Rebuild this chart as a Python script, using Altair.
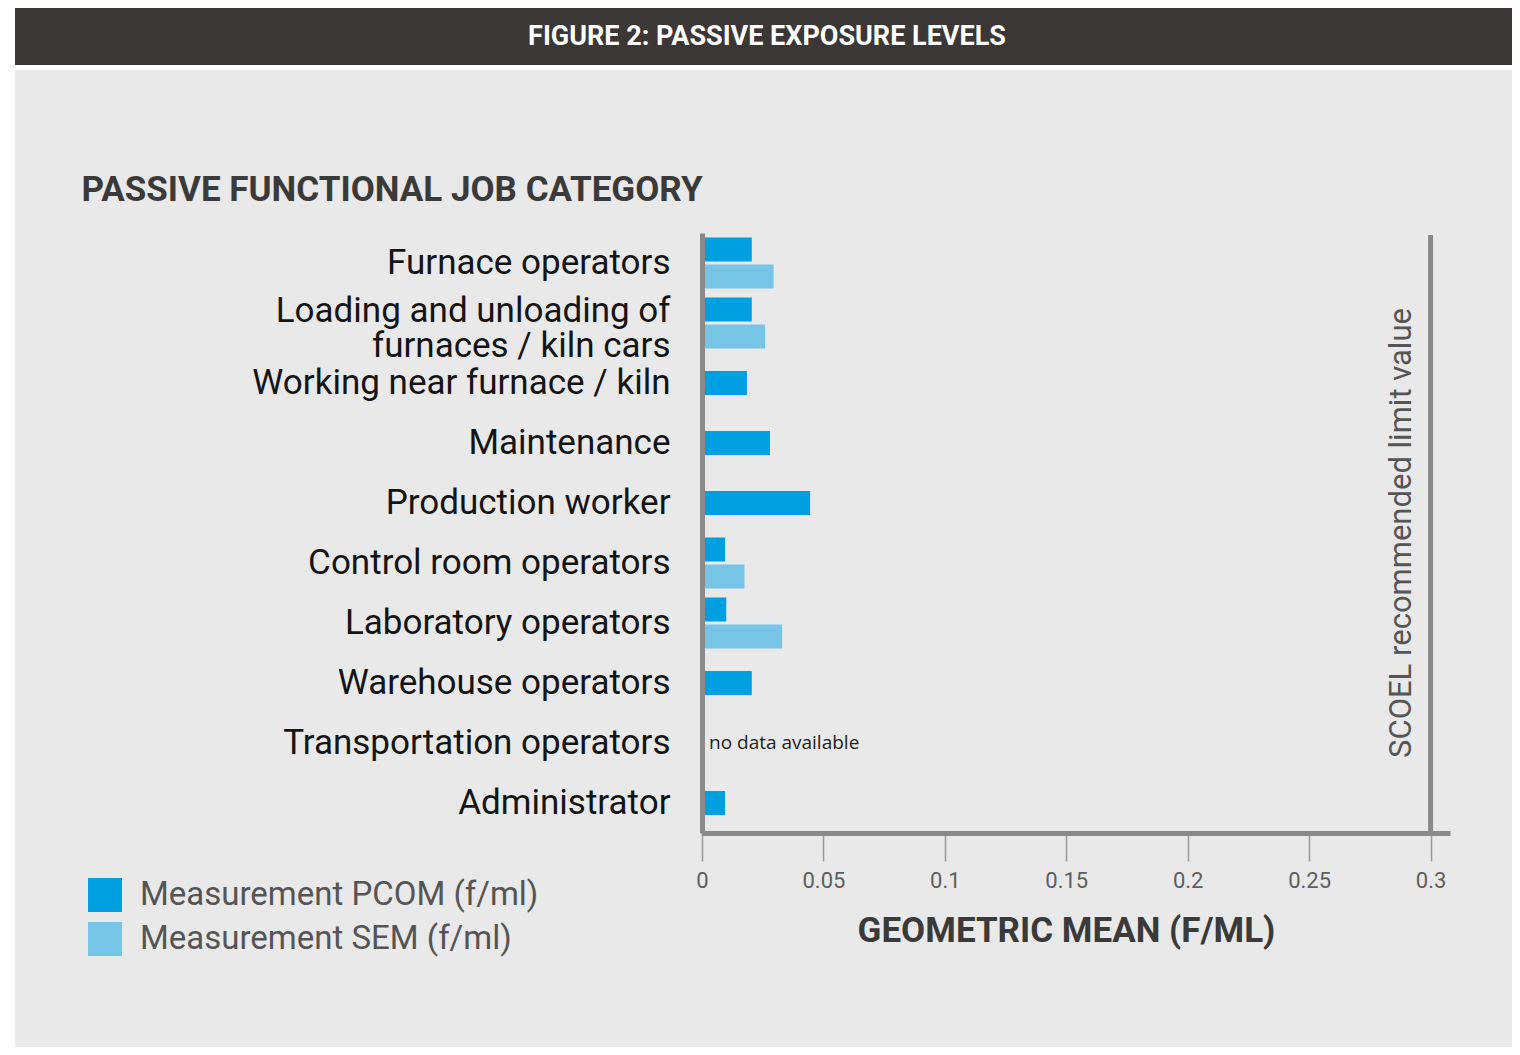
import altair as alt
import pandas as pd

# ---------------- data ----------------
header_title = "FIGURE 2: PASSIVE EXPOSURE LEVELS"
y_title = "PASSIVE FUNCTIONAL JOB CATEGORY"
x_title = "GEOMETRIC MEAN (F/ML)"
categories = [
    "Furnace operators",
    "Loading and unloading of\nfurnaces / kiln cars",
    "Working near furnace / kiln",
    "Maintenance",
    "Production worker",
    "Control room operators",
    "Laboratory operators",
    "Warehouse operators",
    "Transportation operators",
    "Administrator",
]
pcom_values = [0.0205, 0.0205, 0.0185, 0.0280, 0.0445, 0.0095, 0.0100, 0.0205, None, 0.0095]
sem_values = [0.0295, 0.0260, None, None, None, 0.0175, 0.0330, None, None, None]
series_names = ["Measurement PCOM (f/ml)", "Measurement SEM (f/ml)"]
series_colors = ["#009fdf", "#76c5e6"]
x_ticks = [0, 0.05, 0.1, 0.15, 0.2, 0.25, 0.3]
limit_value = 0.3
limit_label = "SCOEL recommended limit value"
no_data_category = "Transportation operators"
no_data_note = "no data available"

# ---------------- tables ----------------
dual_rows, single_rows = [], []
for cat, p, s in zip(categories, pcom_values, sem_values):
    if p is not None and s is not None:
        dual_rows.append({"category": cat, "measure": series_names[0], "value": p})
        dual_rows.append({"category": cat, "measure": series_names[1], "value": s})
    elif p is not None:
        single_rows.append({"category": cat, "measure": series_names[0], "value": p})
dual_df = pd.DataFrame(dual_rows)
single_df = pd.DataFrame(single_rows)
note_df = pd.DataFrame([{"category": no_data_category, "value": 0, "note": no_data_note}])
limit_df = pd.DataFrame([{"value": limit_value}])
dummy = pd.DataFrame({"a": [0]})

FONT = "Roboto"
PANEL_RIGHT = 810

y_enc = alt.Y(
    "category:N",
    sort=categories,
    scale=alt.Scale(paddingInner=0, paddingOuter=0),
    axis=alt.Axis(
        title=y_title,
        titleAngle=0,
        titleAlign="left",
        titleBaseline="middle",
        titleX=-621,
        titleY=-44,
        titleFont=FONT,
        titleFontSize=35,
        titleFontWeight="bold",
        titleColor="#3a3a3a",
        labelExpr="split(datum.label, '\\n')",
        labelOffset={"expr": "indexof(datum.value, '\\n') >= 0 ? -12 : 0"},
        labelFont=FONT,
        labelFontSize=35,
        labelColor="#141414",
        labelLineHeight=35,
        labelPadding=32,
        labelLimit=0,
        ticks=False,
        domainColor="#8a8a8a",
        domainWidth=5,
        zindex=1,
    ),
)
x_enc = alt.X(
    "value:Q",
    scale=alt.Scale(domain=[0, 0.308], nice=False, zero=True),
    axis=alt.Axis(
        title=x_title,
        values=x_ticks,
        format="~g",
        titleX=364,
        titleY=97,
        titleAlign="center",
        titleBaseline="middle",
        titleFont=FONT,
        titleFontSize=35,
        titleFontWeight="bold",
        titleColor="#3a3a3a",
        labelFont=FONT,
        labelFontSize=22,
        labelColor="#5e5e5e",
        labelPadding=9,
        labelFlush=False,
        tickSize=28,
        tickColor="#9a9a9a",
        tickWidth=1.5,
        domainColor="#8a8a8a",
        domainWidth=5,
        grid=False,
        zindex=1,
    ),
)
color_enc = alt.Color(
    "measure:N",
    scale=alt.Scale(domain=series_names, range=series_colors),
    legend=alt.Legend(
        title=None,
        orient="none",
        legendX=-614,
        legendY=645,
        symbolType="square",
        symbolSize=1156,
        symbolStrokeWidth=0,
        symbolOpacity=1,
        labelFont=FONT,
        labelFontSize=33,
        labelColor="#555555",
        labelOffset=18,
        rowPadding=10,
        labelLimit=0,
        zindex=1,
    ),
)

panel = alt.Chart(dummy).mark_rect(color="#e9e9e9").encode(
    x=alt.value(-687), x2=alt.value(PANEL_RIGHT), y=alt.value(-163), y2=alt.value(814)
)
header = alt.Chart(dummy).mark_rect(color="#3b3736").encode(
    x=alt.value(-687), x2=alt.value(PANEL_RIGHT), y=alt.value(-225), y2=alt.value(-168)
)
header_text = alt.Chart(dummy).mark_text(
    text=header_title, font=FONT, fontSize=27, fontWeight="bold", color="white",
    align="center", baseline="middle",
).encode(x=alt.value(65), y=alt.value(-196))

dual_bars = alt.Chart(dual_df).mark_bar().encode(
    y=y_enc,
    x=x_enc,
    color=color_enc,
    yOffset=alt.YOffset(
        "measure:N",
        sort=series_names,
        scale=alt.Scale(domain=series_names, paddingInner=0.111, paddingOuter=0.1667),
    ),
)
single_bars = alt.Chart(single_df).mark_bar(height=alt.RelativeBandSize(band=0.4)).encode(
    y=y_enc, x=x_enc, color=color_enc
)
note = alt.Chart(note_df).mark_text(
    font="Open Sans", fontSize=19, color="#1e1e1e", align="left", baseline="middle", dx=7
).encode(y=y_enc, x=x_enc, text="note:N")

limit_rule = alt.Chart(limit_df).mark_rule(color="#8a8a8a", strokeWidth=5).encode(
    x=x_enc, y=alt.value(2), y2=alt.value(600)
)
limit_text = alt.Chart(dummy).mark_text(
    text=limit_label, font=FONT, fontSize=31, color="#555555", angle=270,
    align="center", baseline="middle",
).encode(x=alt.value(700), y=alt.value(300))

chart = alt.layer(
    panel, header, header_text, dual_bars, single_bars, note, limit_rule, limit_text
).properties(
    width=748,
    height=600,
    autosize="none",
    padding={"left": 694, "top": 225, "right": 62, "bottom": 214},
    background="white",
).configure_view(stroke=None).configure_axis(grid=False)

chart.save("out.html", embed_options={"renderer": "svg", "actions": False})
